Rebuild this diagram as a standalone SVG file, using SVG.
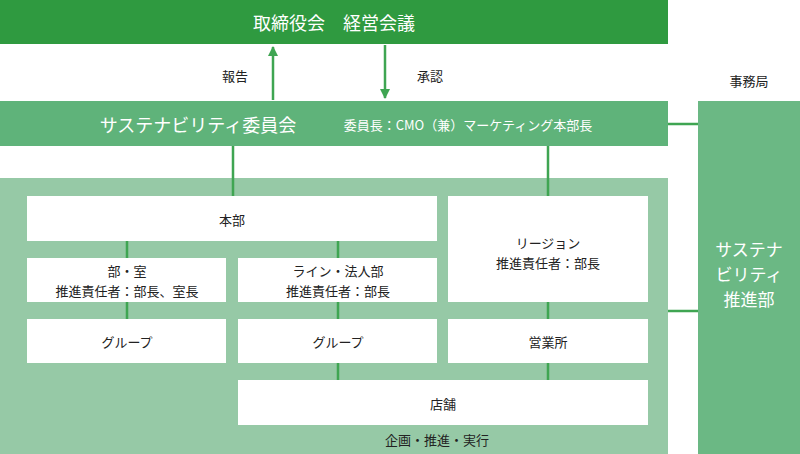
<svg xmlns="http://www.w3.org/2000/svg" width="800" height="454" viewBox="0 0 800 454">
<style>
text{font-family:"Noto Sans CJK JP","Noto Sans",sans-serif;text-anchor:middle;dominant-baseline:central}
.w{fill:#fff}.b{fill:#fff}.t{font-size:13px;fill:#222}
.c{stroke:#3fa552;stroke-width:2.5;fill:none}
</style>
<defs><marker id="a" viewBox="0 0 10 10" refX="9" refY="5" markerWidth="4" markerHeight="4" orient="auto"><path d="M0,0L10,5L0,10z" fill="#3fa552"/></marker></defs>
<g id="board"><rect x="0" y="0" width="668" height="44" fill="#2f9a40"/><text x="334" y="22" class="w" font-size="18">取締役会　経営会議</text></g>
<g id="committee"><rect x="0" y="101" width="668" height="45" fill="#5fb37a"/><text x="198" y="124" class="w" font-size="18">サステナビリティ委員会</text><text x="468" y="124" class="w" font-size="13">委員長：CMO（兼）マーケティング本部長</text></g>
<g id="area"><rect x="0" y="178" width="668" height="276" fill="#96c9a6"/><text x="437" y="439" class="t">企画・推進・実行</text></g>
<g id="office"><rect x="698" y="101" width="102" height="353" fill="#6bb884"/><text x="749" y="248" class="w" font-size="17">サステナ</text><text x="749" y="273" class="w" font-size="17">ビリティ</text><text x="749" y="298" class="w" font-size="17">推進部</text><text x="749" y="80" class="t">事務局</text></g>
<g id="honbu"><rect x="27" y="196" width="410" height="45" class="b"/><text x="232" y="219" class="t">本部</text></g>
<g id="region"><rect x="448" y="196" width="200" height="106" class="b"/><text x="548" y="242" class="t">リージョン</text><text x="548" y="262" class="t">推進責任者：部長</text></g>
<g id="bushitsu"><rect x="27" y="258" width="199" height="44" class="b"/><text x="127" y="270" class="t">部・室</text><text x="127" y="290" class="t">推進責任者：部長、室長</text></g>
<g id="line"><rect x="238" y="258" width="199" height="44" class="b"/><text x="338" y="270" class="t">ライン・法人部</text><text x="338" y="290" class="t">推進責任者：部長</text></g>
<g id="group1"><rect x="27" y="319" width="199" height="44" class="b"/><text x="127" y="341" class="t">グループ</text></g>
<g id="group2"><rect x="238" y="319" width="199" height="44" class="b"/><text x="338" y="341" class="t">グループ</text></g>
<g id="eigyo"><rect x="448" y="319" width="200" height="44" class="b"/><text x="548" y="341" class="t">営業所</text></g>
<g id="tenpo"><rect x="238" y="380" width="410" height="45" class="b"/><text x="443" y="403" class="t">店舗</text></g>
<g id="connectors">
<path class="c" d="M273,100V47" marker-end="url(#a)"/><path class="c" d="M385,45V98" marker-end="url(#a)"/>
<text x="235" y="75" class="t">報告</text><text x="430" y="75" class="t">承認</text>
<path class="c" d="M233,146V196M548,146V196M668,124H698M668,311H698M127,241V258M127,302V319M338,241V258M338,302V319M338,363V380M548,302V319M548,363V380"/>
</g>
</svg>
